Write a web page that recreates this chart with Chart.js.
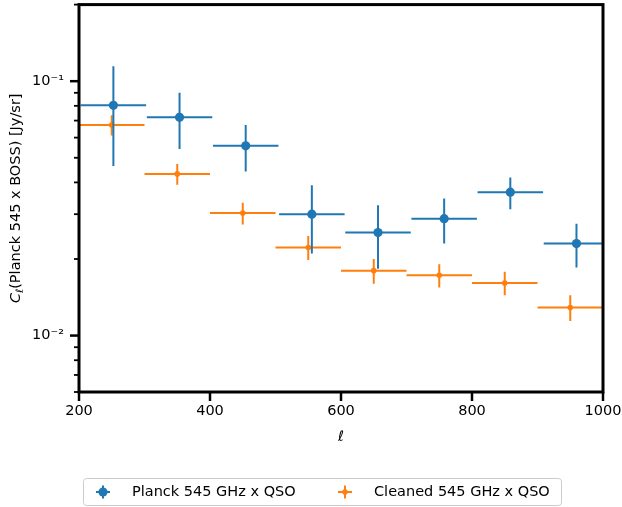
<!DOCTYPE html>
<html>
<head>
<meta charset="utf-8">
<script src="https://cdn.jsdelivr.net/npm/chart.js@4/dist/chart.umd.min.js"></script>
<style>
  html, body { margin: 0; padding: 0; background: #fff; }
  #wrap { width: 622px; height: 507px; }
</style>
</head>
<body>
<div id="wrap"><canvas id="myChart" width="622" height="507"></canvas></div>
<script>
//data
const planckEll = [252.5, 353.5, 454.5, 555.5, 656.5, 757.5, 858.5, 959.5];
const planckCl = [0.0804, 0.0721, 0.0557, 0.0300, 0.0254, 0.0288, 0.0366, 0.0230];
const planckErr = [0.034, 0.018, 0.0115, 0.009, 0.0071, 0.0058, 0.0052, 0.0045];

const cleanedEll = [250, 350, 450, 550, 650, 750, 850, 950];
const cleanedCl = [0.0673, 0.0432, 0.0303, 0.0222, 0.0180, 0.01725, 0.0161, 0.0129];
const cleanedErr = [0.0062, 0.0040, 0.0030, 0.0024, 0.0020, 0.0018, 0.0017, 0.0015];

const binHalfWidth = [50, 50, 50, 50, 50, 50, 50, 50];

const xTicks = [200, 400, 600, 800, 1000];
const yTicks = [0.006, 0.007, 0.008, 0.009, 0.01, 0.02, 0.03, 0.04, 0.05, 0.06, 0.07, 0.08, 0.09, 0.1, 0.2];
const yMajor = [0.01, 0.1];
const yLabels = ["10\u207B\u00B2", "10\u207B\u00B9"];

const FONT = '"DejaVu Sans", sans-serif';
const FS = 14.5;

//------------------error bars, frame, ticks, y title and legend---------------
const errorBarPlugin = {
  id: "errorBars",
  beforeDatasetDraw(chart, args) {
    const ds = chart.data.datasets[args.index];
    const { ctx, chartArea: a, scales } = chart;
    const x = scales.x, y = scales.y;
    ctx.save();
    ctx.beginPath();
    ctx.rect(a.left, a.top, a.right - a.left, a.bottom - a.top);
    ctx.clip();
    ctx.strokeStyle = ds.borderColor;
    ctx.lineWidth = 2;
    ds.data.forEach((p, i) => {
      const px = x.getPixelForValue(p.x);
      const py = y.getPixelForValue(p.y);
      ctx.beginPath();
      ctx.moveTo(x.getPixelForValue(p.x - ds.xErr[i]), py);
      ctx.lineTo(x.getPixelForValue(p.x + ds.xErr[i]), py);
      ctx.moveTo(px, y.getPixelForValue(p.y + ds.yErr[i]));
      ctx.lineTo(px, y.getPixelForValue(p.y - ds.yErr[i]));
      ctx.stroke();
    });
    ctx.restore();
  },
  afterDraw(chart) {
    const { ctx, chartArea: a, scales } = chart;
    const x = scales.x, y = scales.y;
    ctx.save();
    ctx.strokeStyle = "#000";

    // tick marks
    ctx.lineWidth = 2.5;
    x.ticks.forEach((t) => {
      const px = x.getPixelForValue(t.value);
      ctx.beginPath();
      ctx.moveTo(px, a.bottom);
      ctx.lineTo(px, a.bottom + 9);
      ctx.stroke();
    });
    y.ticks.forEach((t) => {
      const py = y.getPixelForValue(t.value);
      const major = yMajor.includes(t.value);
      ctx.lineWidth = major ? 2.5 : 1.8;
      ctx.beginPath();
      ctx.moveTo(a.left, py);
      ctx.lineTo(a.left - (major ? 9 : 5), py);
      ctx.stroke();
    });

    // box round the axes
    ctx.lineWidth = 3;
    ctx.strokeRect(a.left, a.top, a.right - a.left, a.bottom - a.top);

    // y title with italic C and subscript l
    ctx.fillStyle = "#000";
    ctx.textBaseline = "middle";
    ctx.textAlign = "left";
    const fC = "italic " + FS + "px " + FONT;
    const fSub = "italic " + (FS * 0.7) + "px " + FONT;
    const fN = FS + "px " + FONT;
    const rest = "(Planck 545 x BOSS) [Jy/sr]";
    ctx.font = fC; const wC = ctx.measureText("C").width;
    ctx.font = fSub; const wS = ctx.measureText("\u2113").width;
    ctx.font = fN; const wR = ctx.measureText(rest).width;
    const total = wC + wS + wR;
    ctx.save();
    ctx.translate(16, (a.top + a.bottom) / 2);
    ctx.rotate(-Math.PI / 2);
    let cx = -total / 2;
    ctx.font = fC; ctx.fillText("C", cx, 0); cx += wC;
    ctx.font = fSub; ctx.fillText("\u2113", cx, 4); cx += wS;
    ctx.font = fN; ctx.fillText(rest, cx, 0);
    ctx.restore();

    // legend
    const lx = 83.5, ly = 478.5, lw = 478, lh = 27;
    ctx.fillStyle = "#fff";
    ctx.strokeStyle = "#cccccc";
    ctx.lineWidth = 1;
    ctx.beginPath();
    ctx.roundRect(lx, ly, lw, lh, 3);
    ctx.fill();
    ctx.stroke();
    const markX = [103, 345];
    const my = 492;
    chart.data.datasets.forEach((ds, i) => {
      const mx = markX[i];
      ctx.strokeStyle = ds.borderColor;
      ctx.lineWidth = 2;
      ctx.beginPath();
      ctx.moveTo(mx - 7, my); ctx.lineTo(mx + 7, my);
      ctx.moveTo(mx, my - 6.5); ctx.lineTo(mx, my + 6.5);
      ctx.stroke();
      ctx.fillStyle = ds.backgroundColor;
      ctx.beginPath();
      ctx.arc(mx, my, ds.pointRadius, 0, Math.PI * 2);
      ctx.fill();
      ctx.fillStyle = "#000";
      ctx.font = fN;
      ctx.fillText(ds.label, mx + 29, my);
    });
    ctx.restore();
  },
};

// setup
const toPoints = (xs, ys) => xs.map((v, i) => ({ x: v, y: ys[i] }));

const data = {
  datasets: [
    {
      label: "Planck 545 GHz x QSO",
      data: toPoints(planckEll, planckCl),
      xErr: binHalfWidth,
      yErr: planckErr,
      backgroundColor: "#1f77b4",
      borderColor: "#1f77b4",
      pointRadius: 4.6,
      pointBorderWidth: 0,
      showLine: false,
    },
    {
      label: "Cleaned 545 GHz x QSO",
      data: toPoints(cleanedEll, cleanedCl),
      xErr: binHalfWidth,
      yErr: cleanedErr,
      backgroundColor: "#ff7f0e",
      borderColor: "#ff7f0e",
      pointRadius: 2.8,
      pointBorderWidth: 0,
      showLine: false,
    },
  ],
};

// config
const config = {
  type: "scatter",
  data,
  plugins: [errorBarPlugin],
  options: {
    responsive: false,
    animation: false,
    events: [],
    layout: { padding: { top: 2, right: 19, left: 0, bottom: 0 } },
    plugins: { legend: { display: false }, tooltip: { enabled: false } },
    scales: {
      x: {
        type: "linear",
        min: 200,
        max: 1000,
        afterFit: (s) => {
          s.height = 115;
          s.paddingLeft = 0;
          s.paddingRight = 0;
        },
        afterBuildTicks: (s) => { s.ticks = xTicks.map((v) => ({ value: v })); },
        grid: { display: false, drawTicks: false },
        border: { display: false },
        ticks: {
          padding: 11,
          color: "#000",
          font: { family: FONT, size: FS },
          maxRotation: 0,
          autoSkip: false,
          callback: (v) => String(v),
        },
        title: {
          display: true,
          text: "\u2113",
          color: "#000",
          font: { family: FONT, size: FS, style: "italic" },
          padding: { top: 0, bottom: 61 },
        },
      },
      y: {
        type: "logarithmic",
        min: 0.006,
        max: 0.2,
        afterFit: (s) => {
          s.width = 79;
          s.paddingTop = 0;
          s.paddingBottom = 0;
        },
        afterBuildTicks: (s) => { s.ticks = yTicks.map((v) => ({ value: v })); },
        grid: { display: false, drawTicks: false },
        border: { display: false },
        ticks: {
          padding: 15,
          color: "#000",
          font: { family: FONT, size: FS },
          autoSkip: false,
          callback: (v) => {
            const k = yMajor.indexOf(v);
            return k >= 0 ? yLabels[k] : "";
          },
        },
      },
    },
  },
};

// render init block
const myChart = new Chart(document.getElementById("myChart"), config);
</script>
</body>
</html>
